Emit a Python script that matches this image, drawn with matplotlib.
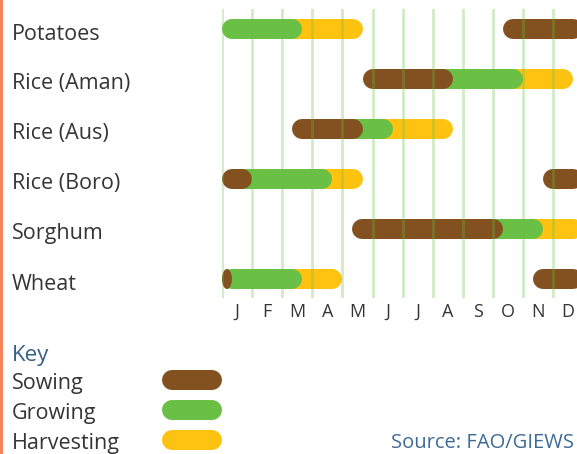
import numpy as np
import matplotlib
matplotlib.use("Agg")
import matplotlib.pyplot as plt
from matplotlib.patches import Ellipse, Rectangle

plt.rcParams["font.family"] = ["Open Sans", "DejaVu Sans"]

# data: crop rows and stage periods in months (0 = start of Jan)
crops = ["Potatoes", "Rice (Aman)", "Rice (Aus)", "Rice (Boro)", "Sorghum", "Wheat"]
months = ["J", "F", "M", "A", "M", "J", "J", "A", "S", "O", "N", "D"]
stages = ["Sowing", "Growing", "Harvesting"]

sowing = [("Potatoes", 9.33, 12), ("Rice (Aman)", 4.67, 7.67), ("Rice (Aus)", 2.33, 4.67),
          ("Rice (Boro)", 0, 1), ("Rice (Boro)", 10.67, 12), ("Sorghum", 4.33, 9.33),
          ("Wheat", 0, 0.33), ("Wheat", 10.33, 12)]
growing = [("Potatoes", 0, 2.67), ("Rice (Aman)", 7.67, 10), ("Rice (Aus)", 4.67, 5.67),
           ("Rice (Boro)", 1, 3.67), ("Sorghum", 9.33, 10.67), ("Wheat", 0.33, 2.67)]
harvesting = [("Potatoes", 2.67, 4.67), ("Rice (Aman)", 10, 11.67), ("Rice (Aus)", 5.67, 7.67),
              ("Rice (Boro)", 3.67, 4.67), ("Sorghum", 10.67, 12), ("Wheat", 2.67, 4.0)]

BROWN = "#83501f"
GREEN = "#6abf45"
YELLOW = "#fec311"
TEXT = "#353535"
colors = [BROWN, GREEN, YELLOW]

W, H = 577, 454
MONTH_PX = 30.1
BAR_PX = 20
ROW_PX = 50
BAR_PT = BAR_PX * 72 / 100
R = BAR_PX / 2 / MONTH_PX
LABEL_FS = 15.5

fig = plt.figure(figsize=(W / 100, H / 100), dpi=100)
fig.patch.set_facecolor("white")

# overlay in pixel units for labels and key
pa = fig.add_axes([0, 0, 1, 1])
pa.set_xlim(0, W)
pa.set_ylim(H, 0)
pa.axis("off")

ax = fig.add_axes([222 / W, (H - 298) / H, (W - 222) / W, (298 - 9) / H])
ax.patch.set_alpha(0)
ax.set_xlim(0, (W - 222) / MONTH_PX)
ax.set_ylim(5.38, -0.4)
for s in ax.spines.values():
    s.set_visible(False)
ax.set_yticks([])
ax.set_xticks(np.arange(12) + 0.5)
ax.set_xticklabels(months, fontsize=13, color=TEXT)
ax.tick_params(axis="x", length=0, pad=3.5)

for m in range(12):
    ax.axvline(m, color=GREEN, alpha=0.3, lw=2, zorder=5)

row_of = {c: i for i, c in enumerate(crops)}
all_segs = [sowing, growing, harvesting]


def capsule(row, start, end, color, z, prev_start=None):
    if end - start < 2 * R:
        ax.add_patch(Ellipse(((start + end) / 2, row), end - start, BAR_PX / ROW_PX,
                             color=color, lw=0, zorder=z))
        return
    if prev_start is None:
        x0 = start + R
    else:
        x0 = max(start - R, prev_start + R)
    ax.plot([x0, end - R], [row, row], color=color, lw=BAR_PT,
            solid_capstyle="round", zorder=z, clip_on=False)


for k, segs in enumerate(all_segs):
    for crop, start, end in segs:
        prev = None
        if k > 0:
            for c2, s2, e2 in all_segs[k - 1]:
                if c2 == crop and abs(e2 - start) < 0.01:
                    prev = s2
        capsule(row_of[crop], start, end, colors[k], 4 - k, prev)

for i, c in enumerate(crops):
    pa.text(12, 29 + ROW_PX * i + 10.5, c, fontsize=LABEL_FS, color=TEXT,
            va="baseline", ha="left")

# left accent bar
pa.add_patch(Rectangle((0, 0), 3, H, color="#f5845c", lw=0))

# key
pa.text(12, 361, "Key", fontsize=16, color="#365f8a", va="baseline")
for j, st in enumerate(stages):
    y = 380 + 30 * j
    pa.text(12, y + 9, st, fontsize=LABEL_FS, color=TEXT, va="baseline")
    pa.plot([172, 212], [y, y], color=colors[j], lw=BAR_PT, solid_capstyle="round")

pa.text(391, 448, "Source: FAO/GIEWS", fontsize=14.5, color="#3d6a96", va="baseline")

fig.savefig("out.png", dpi=100)
